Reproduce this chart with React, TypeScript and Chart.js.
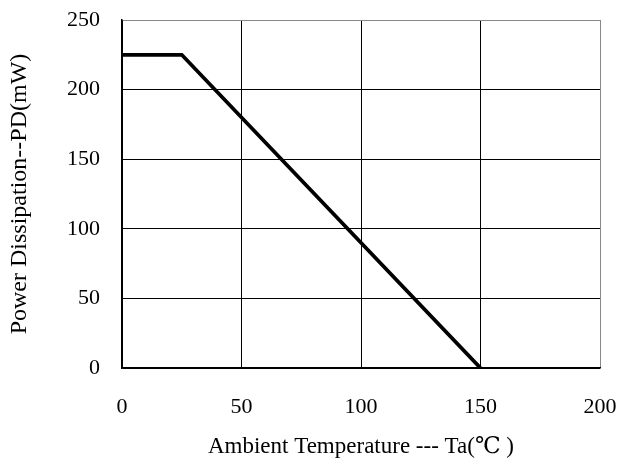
import React, { useEffect, useRef } from "react";
import { Chart, registerables } from "chart.js";

Chart.register(...registerables);

const temperatures = [0, 25, 150];
const powerValues = [225, 225, 0];
const xTickValues = [0, 50, 100, 150, 200];
const yTickValues = [0, 50, 100, 150, 200, 250];
const xTitle = "Ambient Temperature --- Ta(\u2103 )";
const yTitle = "Power Dissipation--PD(mW)";

const FONT = "'Liberation Serif', 'DejaVu Serif', serif";

const zeroPad = (s: any) => {
  s.paddingTop = 0;
  s.paddingBottom = 0;
  s.paddingLeft = 0;
  s.paddingRight = 0;
};

export default function App() {
  const ref = useRef<HTMLCanvasElement | null>(null);
  useEffect(() => {
    document.body.style.margin = "0";
    const canvas = ref.current;
    if (!canvas) return;
    const chart = new Chart(canvas, {
      type: "line",
      data: {
        datasets: [
          {
            data: temperatures.map((t, i) => ({ x: t, y: powerValues[i] })),
            borderColor: "#000",
            borderWidth: 3.8,
            pointRadius: 0,
            tension: 0,
            fill: false,
          },
        ],
      },
      options: {
        animation: false,
        responsive: false,
        maintainAspectRatio: false,
        layout: { padding: { top: 20, right: 19, left: 0, bottom: 0 } },
        plugins: { legend: { display: false }, tooltip: { enabled: false } },
        scales: {
          x: {
            type: "linear",
            min: 0,
            max: 200,
            afterBuildTicks: (s: any) => {
              s.ticks = xTickValues.map((v) => ({ value: v }));
            },
            afterFit: (s: any) => {
              s.height = 94;
              zeroPad(s);
            },
            grid: {
              color: (c: any) => (c.tick && c.tick.value === 200 ? "#888" : "#000"),
              lineWidth: 1,
              drawTicks: false,
            },
            border: { color: "#000", width: 1.5 },
            ticks: {
              color: "#000",
              padding: 26,
              maxRotation: 0,
              font: { family: FONT, size: 22 },
            },
            title: {
              display: true,
              text: xTitle,
              color: "#000",
              font: { family: FONT, size: 23 },
              padding: { top: 0, bottom: 1 },
            },
          },
          y: {
            type: "linear",
            min: 0,
            max: 250,
            afterBuildTicks: (s: any) => {
              s.ticks = yTickValues.map((v) => ({ value: v }));
            },
            afterFit: (s: any) => {
              s.width = 122;
              zeroPad(s);
            },
            grid: {
              color: (c: any) => (c.tick && c.tick.value === 250 ? "#888" : "#000"),
              lineWidth: 1,
              drawTicks: false,
            },
            border: { color: "#000", width: 1.5 },
            ticks: {
              color: "#000",
              padding: 22,
              font: { family: FONT, size: 22 },
            },
            title: {
              display: true,
              text: yTitle,
              color: "#000",
              font: { family: FONT, size: 24 },
              padding: { top: 5, bottom: 0 },
            },
          },
        },
      },
    });
    return () => chart.destroy();
  }, []);
  return (
    <div style={{ width: 619, height: 462, background: "#fff" }}>
      <canvas ref={ref} width={619} height={462} style={{ display: "block" }} />
    </div>
  );
}
